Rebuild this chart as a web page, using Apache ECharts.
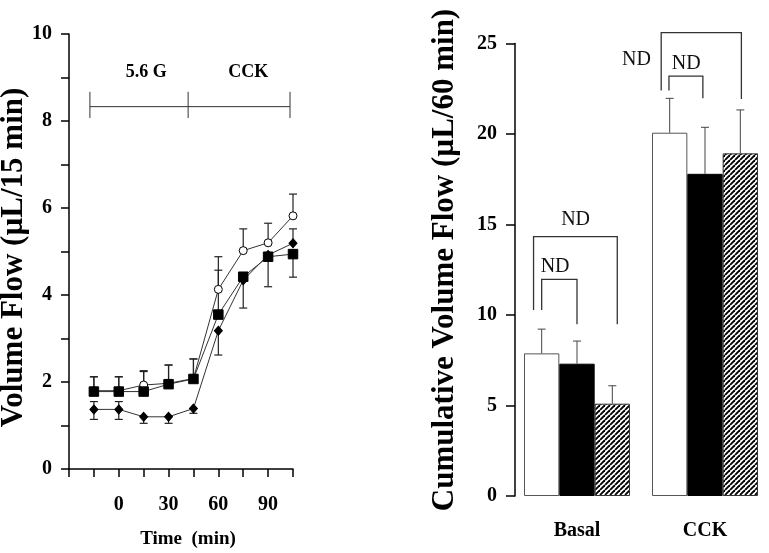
<!DOCTYPE html>
<html>
<head>
<meta charset="utf-8">
<script src="https://cdn.jsdelivr.net/npm/echarts@6/dist/echarts.min.js"></script>
<style>
html,body{margin:0;padding:0;background:#fff;}
#chart{width:769px;height:553px;}
</style>
</head>
<body>
<div id="chart"></div>
<script>
// ---------- Left panel data ----------
const timePoints = [-15, 0, 15, 30, 45, 60, 75, 90, 105];
const openCircleMean = [1.80, 1.80, 1.93, 1.97, 2.08, 4.13, 5.02, 5.20, 5.82];
const openCircleErrUp = [0.32, 0.32, 0.31, 0.42, 0.45, 0.75, 0.50, 0.45, 0.50];
const openCircleErrDown = [0, 0, 0, 0, 0, 0, 0, 0, 0];
const squareMean = [1.78, 1.78, 1.78, 1.95, 2.07, 3.55, 4.42, 4.88, 4.94];
const squareErrUp = [0.34, 0.34, 0.48, 0.44, 0.46, 1.02, 0, 0, 0];
const squareErrDown = [0, 0, 0, 0, 0, 0, 0, 0.69, 0.53];
const diamondMean = [1.37, 1.37, 1.20, 1.20, 1.39, 3.18, 4.34, 4.92, 5.19];
const diamondErrUp = [0.18, 0.18, 0, 0, 0, 0, 0, 0, 0.33];
const diamondErrDown = [0.23, 0.23, 0.15, 0.15, 0.11, 0.56, 0.64, 0, 0];
const leftYTicks = [0, 2, 4, 6, 8, 10];
const leftXTickLabels = [0, 30, 60, 90];
// phase annotation (time, value units)
const phaseNames = ['5.6 G', 'CCK'];
const phaseNameTimes = [16.6, 78];
const phaseNameLevel = 9.13;
const phaseBoundaries = [-17.4, 41.8, 103.2];
const phaseLineLevel = 8.33;
const phaseTickRange = [8.07, 8.67];

// ---------- Right panel data ----------
const groups = ['Basal', 'CCK'];
const openBarValues = [7.88, 20.07];
const openBarErr = [1.34, 1.90];
const solidBarValues = [7.31, 17.80];
const solidBarErr = [1.25, 2.57];
const hatchBarValues = [5.10, 18.93];
const hatchBarErr = [0.99, 2.40];
// brackets: [group, leftSlot, rightSlot, topValue, leftEndValue, rightEndValue]
const brackets = [
  [0, -1.23, 1.14, 14.33, 10.28, 9.49],
  [0, -1.00, 0.00, 11.97, 10.28, 9.49],
  [1, -1.24, 1.03, 25.60, 22.40, 21.93],
  [1, -1.02, -0.06, 23.20, 22.40, 21.97]
];
// ND labels: [group, slot, value]
const ndLabels = [
  [0, -0.04, 15.25],
  [0, -0.62, 12.67],
  [1, -1.94, 24.09],
  [1, -0.53, 23.90]
];

const FONT = "'Liberation Serif','Times New Roman',serif";
const BAR_FRAC = 0.276; // bar width as fraction of category band

function makeHatch() {
  const c = document.createElement('canvas');
  const s = 5;
  c.width = s; c.height = s;
  const g = c.getContext('2d');
  g.fillStyle = '#fff';
  g.fillRect(0, 0, s, s);
  g.strokeStyle = '#000';
  g.lineWidth = 1.9;
  for (let k = -s; k <= s; k += s) {
    g.beginPath();
    g.moveTo(k, s);
    g.lineTo(k + s, 0);
    g.stroke();
  }
  return c;
}
const hatchCanvas = makeHatch();

const chart = echarts.init(document.getElementById('chart'), null, {renderer: 'canvas'});

function errSeriesLeft(name, mean, up, down) {
  return {
    type: 'custom', name: name, xAxisIndex: 0, yAxisIndex: 0, z: 1,
    data: timePoints.map((t, i) => [t, mean[i], up[i], down[i]]),
    renderItem: function (params, api) {
      const t = api.value(0), m = api.value(1), u = api.value(2), d = api.value(3);
      const children = [];
      const style = {stroke: '#222', lineWidth: 1.2};
      const hw = 4;
      if (u > 0) {
        const p0 = api.coord([t, m]), p1 = api.coord([t, m + u]);
        children.push({type: 'line', shape: {x1: p0[0], y1: p0[1], x2: p1[0], y2: p1[1]}, style: style});
        children.push({type: 'line', shape: {x1: p1[0] - hw, y1: p1[1], x2: p1[0] + hw, y2: p1[1]}, style: style});
      }
      if (d > 0) {
        const p0 = api.coord([t, m]), p1 = api.coord([t, m - d]);
        children.push({type: 'line', shape: {x1: p0[0], y1: p0[1], x2: p1[0], y2: p1[1]}, style: style});
        children.push({type: 'line', shape: {x1: p1[0] - hw, y1: p1[1], x2: p1[0] + hw, y2: p1[1]}, style: style});
      }
      return {type: 'group', children: children};
    }
  };
}

function lineSeries(name, mean, symbol, fill, size) {
  return {
    type: 'line', name: name, xAxisIndex: 0, yAxisIndex: 0, z: 3,
    data: timePoints.map((t, i) => [t, mean[i]]),
    symbol: symbol, symbolSize: size, showAllSymbol: true,
    lineStyle: {color: '#333', width: 1},
    itemStyle: {color: fill, borderColor: '#000', borderWidth: 1},
    emphasis: {disabled: true}
  };
}

function errSeriesRight(name, values, errs, slot) {
  return {
    type: 'custom', name: name, xAxisIndex: 1, yAxisIndex: 1, z: 4,
    data: values.map((v, i) => [i, v, errs[i]]),
    renderItem: function (params, api) {
      const g = api.value(0), v = api.value(1), e = api.value(2);
      const band = api.coord([1, 0])[0] - api.coord([0, 0])[0];
      const dx = slot * band * BAR_FRAC;
      const p0 = api.coord([g, v]), p1 = api.coord([g, v + e]);
      const x = p0[0] + dx;
      const style = {stroke: '#444', lineWidth: 1};
      return {type: 'group', children: [
        {type: 'line', shape: {x1: x, y1: p0[1], x2: x, y2: p1[1]}, style: style},
        {type: 'line', shape: {x1: x - 4, y1: p1[1], x2: x + 4, y2: p1[1]}, style: style}
      ]};
    }
  };
}

const option = {
  animation: false,
  backgroundColor: '#fff',
  textStyle: {fontFamily: FONT},
  grid: [
    {left: 69, top: 34, width: 224, height: 435},
    {left: 513, top: 43.5, width: 266, height: 452.5}
  ],
  xAxis: [
    {
      type: 'value', gridIndex: 0, min: -30, max: 105, interval: 15,
      axisLine: {show: true, onZero: false, lineStyle: {color: '#000', width: 1.5}},
      axisTick: {show: true, length: 8, lineStyle: {color: '#000', width: 1.5}},
      splitLine: {show: false},
      axisLabel: {
        margin: 26, fontSize: 20, fontWeight: 'bold', color: '#000', fontFamily: FONT,
        formatter: v => leftXTickLabels.indexOf(v) >= 0 ? String(v) : ''
      }
    },
    {
      type: 'category', gridIndex: 1, data: groups,
      axisLine: {show: false}, axisTick: {show: false}, splitLine: {show: false},
      axisLabel: {margin: 25, fontSize: 20, fontWeight: 'bold', color: '#000', fontFamily: FONT}
    }
  ],
  yAxis: [
    {
      type: 'value', gridIndex: 0, min: 0, max: 10, interval: 1,
      axisLine: {show: true, onZero: false, lineStyle: {color: '#000', width: 1.5}},
      axisTick: {show: true, length: 8, lineStyle: {color: '#000', width: 1.5}},
      splitLine: {show: false},
      axisLabel: {
        margin: 17, fontSize: 20, fontWeight: 'bold', color: '#000', fontFamily: FONT,
        formatter: v => leftYTicks.indexOf(v) >= 0 ? String(v) : ''
      }
    },
    {
      type: 'value', gridIndex: 1, min: 0, max: 25, interval: 5, offset: -2,
      axisLine: {show: true, onZero: false, lineStyle: {color: '#000', width: 1.5}},
      axisTick: {show: true, length: 9, lineStyle: {color: '#000', width: 1.5}},
      splitLine: {show: false},
      axisLabel: {margin: 18, fontSize: 20, fontWeight: 'bold', color: '#000', fontFamily: FONT}
    }
  ],
  graphic: [
    {type: 'text', x: 14, y: 257.5, rotation: Math.PI / 2,
      style: {text: 'Volume Flow (µL/15 min)', font: 'bold 31px ' + FONT, fill: '#000', align: 'center', verticalAlign: 'middle'}},
    {type: 'text', x: 188, y: 539,
      style: {text: 'Time  (min)', font: 'bold 19px ' + FONT, fill: '#000', align: 'center', verticalAlign: 'middle'}},
    {type: 'text', x: 445, y: 260, rotation: Math.PI / 2,
      style: {text: 'Cumulative Volume Flow (µL/60 min)', font: 'bold 31px ' + FONT, fill: '#000', align: 'center', verticalAlign: 'middle'}}
  ],
  series: [
    errSeriesLeft('errDiamond', diamondMean, diamondErrUp, diamondErrDown),
    errSeriesLeft('errSquare', squareMean, squareErrUp, squareErrDown),
    errSeriesLeft('errCircle', openCircleMean, openCircleErrUp, openCircleErrDown),
    lineSeries('diamond', diamondMean, 'diamond', '#000', [8, 9]),
    lineSeries('circle', openCircleMean, 'circle', '#fff', 8),
    lineSeries('square', squareMean, 'rect', '#000', 9.5),
    {
      type: 'custom', name: 'phases', xAxisIndex: 0, yAxisIndex: 0, z: 2, clip: false,
      data: [0],
      renderItem: function (params, api) {
        const style = {stroke: '#333', lineWidth: 1};
        const children = [];
        const a = api.coord([phaseBoundaries[0], phaseLineLevel]);
        const b = api.coord([phaseBoundaries[phaseBoundaries.length - 1], phaseLineLevel]);
        children.push({type: 'line', shape: {x1: a[0], y1: a[1], x2: b[0], y2: b[1]}, style: style});
        phaseBoundaries.forEach(t => {
          const p = api.coord([t, phaseTickRange[0]]), q = api.coord([t, phaseTickRange[1]]);
          children.push({type: 'line', shape: {x1: p[0], y1: p[1], x2: q[0], y2: q[1]}, style: style});
        });
        phaseNames.forEach((n, i) => {
          const p = api.coord([phaseNameTimes[i], phaseNameLevel]);
          children.push({type: 'text', x: p[0], y: p[1],
            style: {text: n, font: 'bold 18px ' + FONT, fill: '#000', align: 'center', verticalAlign: 'middle'}});
        });
        return {type: 'group', children: children};
      }
    },
    {
      type: 'bar', name: 'open', xAxisIndex: 1, yAxisIndex: 1, data: openBarValues,
      barWidth: (BAR_FRAC * 100) + '%', barGap: '0%', z: 2,
      itemStyle: {color: '#fff', borderColor: '#555', borderWidth: 1},
      emphasis: {disabled: true}
    },
    {
      type: 'bar', name: 'solid', xAxisIndex: 1, yAxisIndex: 1, data: solidBarValues,
      barWidth: (BAR_FRAC * 100) + '%', barGap: '0%', z: 2,
      itemStyle: {color: '#000', borderColor: '#000', borderWidth: 1},
      emphasis: {disabled: true}
    },
    {
      type: 'bar', name: 'hatch', xAxisIndex: 1, yAxisIndex: 1, data: hatchBarValues,
      barWidth: (BAR_FRAC * 100) + '%', barGap: '0%', z: 2,
      itemStyle: {color: {image: hatchCanvas, repeat: 'repeat'}, borderColor: '#333', borderWidth: 1},
      emphasis: {disabled: true}
    },
    errSeriesRight('errOpen', openBarValues, openBarErr, -1),
    errSeriesRight('errSolid', solidBarValues, solidBarErr, 0),
    errSeriesRight('errHatch', hatchBarValues, hatchBarErr, 1),
    {
      type: 'custom', name: 'brackets', xAxisIndex: 1, yAxisIndex: 1, z: 5, clip: false,
      data: [0],
      renderItem: function (params, api) {
        const band = api.coord([1, 0])[0] - api.coord([0, 0])[0];
        const slotPx = band * BAR_FRAC;
        const style = {stroke: '#333', lineWidth: 1.3};
        const children = [];
        brackets.forEach(br => {
          const c = api.coord([br[0], br[3]]);
          const xl = c[0] + br[1] * slotPx, xr = c[0] + br[2] * slotPx;
          const yt = c[1];
          const yl = api.coord([br[0], br[4]])[1];
          const yr = api.coord([br[0], br[5]])[1];
          children.push({type: 'polyline', shape: {points: [[xl, yl], [xl, yt], [xr, yt], [xr, yr]]}, style: Object.assign({fill: null}, style)});
        });
        ndLabels.forEach(nd => {
          const c = api.coord([nd[0], nd[2]]);
          children.push({type: 'text', x: c[0] + nd[1] * slotPx, y: c[1],
            style: {text: 'ND', font: '20px ' + FONT, fill: '#111', align: 'center', verticalAlign: 'middle'}});
        });
        return {type: 'group', children: children};
      }
    }
  ]
};
chart.setOption(option);
</script>
</body>
</html>
